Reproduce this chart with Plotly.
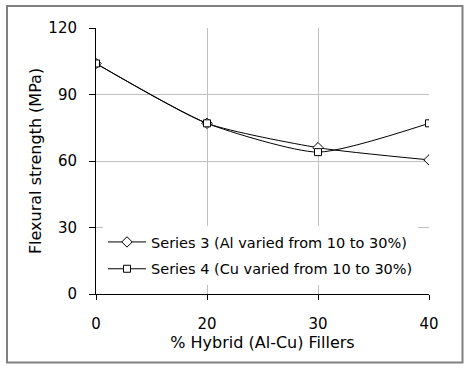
import plotly.graph_objects as go

# ---- data ----
filler_pct = ["0", "20", "30", "40"]
series3_al = [104, 77, 66, 60.5]
series4_cu = [104, 77, 64, 77]
y_ticks = [0, 30, 60, 90, 120]
series3_name = "Series 3 (Al varied from 10 to 30%)"
series4_name = "Series 4 (Cu varied from 10 to 30%)"
x_title = "% Hybrid (Al-Cu) Fillers"
y_title = "Flexural strength (MPa)"

FONT = "DejaVu Sans, Liberation Sans, Arial, sans-serif"
W, H = 468, 369
L, R, T, B = 96, 39, 28, 75
pw, ph = W - L - R, H - T - B

fig = go.Figure()
fig.add_trace(go.Scatter(
    x=filler_pct, y=series3_al, name=series3_name, mode="lines+markers",
    line=dict(color="black", width=1, shape="spline", smoothing=0.6),
    marker=dict(symbol="diamond", size=8, color="white", line=dict(color="black", width=1)),
    legendgroup="s3"))
fig.add_trace(go.Scatter(
    x=filler_pct, y=series4_cu, name=series4_name, mode="lines+markers",
    line=dict(color="black", width=1, shape="spline", smoothing=0.6),
    marker=dict(symbol="square", size=7, color="white", line=dict(color="black", width=1)),
    legendgroup="s4"))

def px_x(p):
    return (p - L) / pw

def px_y(p):
    return (H - B - p) / ph

fig.update_layout(
    width=W, height=H,
    margin=dict(l=L, r=R, t=T, b=B, autoexpand=False),
    paper_bgcolor="white", plot_bgcolor="white",
    font=dict(family=FONT, size=15, color="black"),
    showlegend=True,
    legend=dict(x=px_x(103), y=px_y(226), xanchor="left", yanchor="top",
                bgcolor="white", borderwidth=0, traceorder="grouped",
                tracegroupgap=5, itemwidth=38, font=dict(size=14.5, family=FONT)),
    xaxis=dict(type="category", range=[0, 3], showline=True, linecolor="black", linewidth=1,
               showgrid=True, gridcolor="#c0c0c0", gridwidth=1,
               ticks="outside", ticklen=5, tickcolor="black",
               tickfont=dict(size=15), ticklabelstandoff=11,
               title=dict(text=x_title, font=dict(size=16), standoff=0),
               zeroline=False, automargin=False),
    xaxis2=dict(overlaying="x", anchor="y", side="bottom", range=[0, 3],
                tickvals=[0.5, 1.5, 2.5], ticks="outside", ticklen=5, tickcolor="black",
                showticklabels=False, showgrid=False, showline=False, zeroline=False),
    yaxis=dict(range=[0, 120], tickvals=y_ticks, showline=True, linecolor="black", linewidth=1,
               showgrid=True, gridcolor="#c0c0c0", gridwidth=1,
               ticks="outside", ticklen=6, tickcolor="black",
               tickfont=dict(size=15), ticklabelstandoff=9,
               title=dict(text=y_title, font=dict(size=16), standoff=2),
               zeroline=False, automargin=False),
    shapes=[dict(type="rect", xref="paper", yref="paper",
                 x0=px_x(7), x1=px_x(462.5), y0=px_y(362.5), y1=px_y(6),
                 line=dict(color="#808080", width=2), layer="above")],
)

fig.write_html("out.html", config={"displayModeBar": False},
               post_script="document.body.style.margin='0';")
